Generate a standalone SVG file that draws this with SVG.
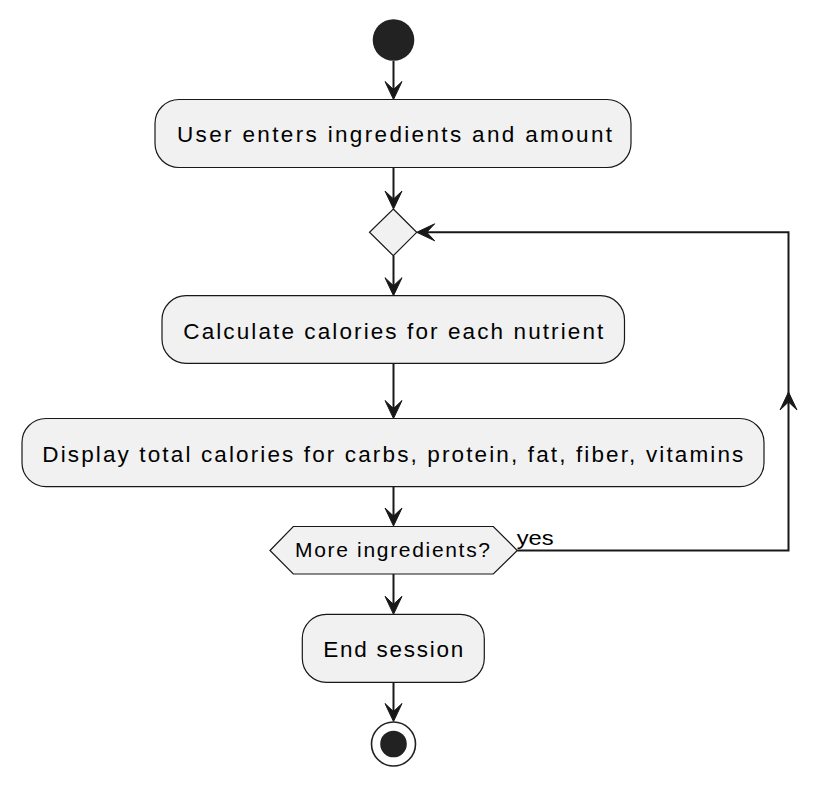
<svg xmlns="http://www.w3.org/2000/svg" xmlns:xlink="http://www.w3.org/1999/xlink" width="840" height="788" viewBox="0 0 840 788">
<style>
.box{fill:#F1F1F1;stroke:#181818;stroke-width:1.2}
.t{font-family:"Liberation Sans",Arial,sans-serif;font-size:22.5px;fill:#000}
.td{font-family:"Liberation Sans",Arial,sans-serif;font-size:21px;fill:#000}
.c{fill:none;stroke:#181818;stroke-width:2}
.ah{fill:#181818;stroke:#181818;stroke-width:1}
</style>
<defs>
<polygon id="ah" points="0,0 -8.5,-18 0,-10 8.5,-18"/>
</defs>
<rect width="840" height="788" fill="#FFFFFF"/>
<g id="connectors">
<line class="c" x1="393.5" y1="61" x2="393.5" y2="96"/>
<line class="c" x1="393.5" y1="167.5" x2="393.5" y2="205"/>
<line class="c" x1="393.5" y1="255.7" x2="393.5" y2="292"/>
<line class="c" x1="393.5" y1="363.3" x2="393.5" y2="415"/>
<line class="c" x1="393.5" y1="486.7" x2="393.5" y2="523"/>
<line class="c" x1="393.5" y1="574" x2="393.5" y2="611"/>
<line class="c" x1="393.5" y1="682.3" x2="393.5" y2="718"/>
<polyline class="c" points="517.3,550.5 788.5,550.5 788.5,232.3 420,232.3"/>
<use href="#ah" class="ah" transform="translate(393.5,99.5)"/>
<use href="#ah" class="ah" transform="translate(393.5,209)"/>
<use href="#ah" class="ah" transform="translate(393.5,295.7)"/>
<use href="#ah" class="ah" transform="translate(393.5,418.5)"/>
<use href="#ah" class="ah" transform="translate(393.5,526)"/>
<use href="#ah" class="ah" transform="translate(393.5,614.3)"/>
<use href="#ah" class="ah" transform="translate(393.5,721.5)"/>
<use href="#ah" class="ah" transform="translate(788.5,392) rotate(180)"/>
<use href="#ah" class="ah" transform="translate(416.7,232.3) rotate(90)"/>
<text class="td" x="516.7" y="545" textLength="37" lengthAdjust="spacingAndGlyphs">yes</text>
</g>
<g id="start">
<circle cx="393.5" cy="40" r="20.8" fill="#222222"/>
</g>
<g id="n1">
<rect class="box" x="155" y="99.5" width="476" height="68" rx="24" ry="24"/>
<text class="t" x="177" y="141.7" textLength="435" lengthAdjust="spacing">User enters ingredients and amount</text>
</g>
<g id="merge">
<polygon class="box" points="393.3,209 416.7,232.3 393.3,255.7 369.5,232.3"/>
</g>
<g id="n2">
<rect class="box" x="162" y="295.7" width="462.5" height="67.6" rx="24" ry="24"/>
<text class="t" x="183.3" y="338.5" textLength="420" lengthAdjust="spacing">Calculate calories for each nutrient</text>
</g>
<g id="n3">
<rect class="box" x="22" y="418.5" width="742" height="68.2" rx="24" ry="24"/>
<text class="t" x="42.3" y="461.7" textLength="701" lengthAdjust="spacing">Display total calories for carbs, protein, fat, fiber, vitamins</text>
</g>
<g id="decision">
<polygon class="box" points="270,550.5 293.3,526.5 493.3,526.5 517.3,550.5 493.3,574 293.3,574"/>
<text class="td" x="295" y="557.3" textLength="195" lengthAdjust="spacing">More ingredients?</text>
</g>
<g id="n4">
<rect class="box" x="302.3" y="614.3" width="182" height="68" rx="24" ry="24"/>
<text class="t" x="323.3" y="656.7" textLength="140" lengthAdjust="spacing">End session</text>
</g>
<g id="end">
<circle cx="393.5" cy="744" r="22" fill="#FFFFFF" stroke="#222222" stroke-width="1.6"/>
<circle cx="393.5" cy="744" r="13.3" fill="#222222"/>
</g>
</svg>
